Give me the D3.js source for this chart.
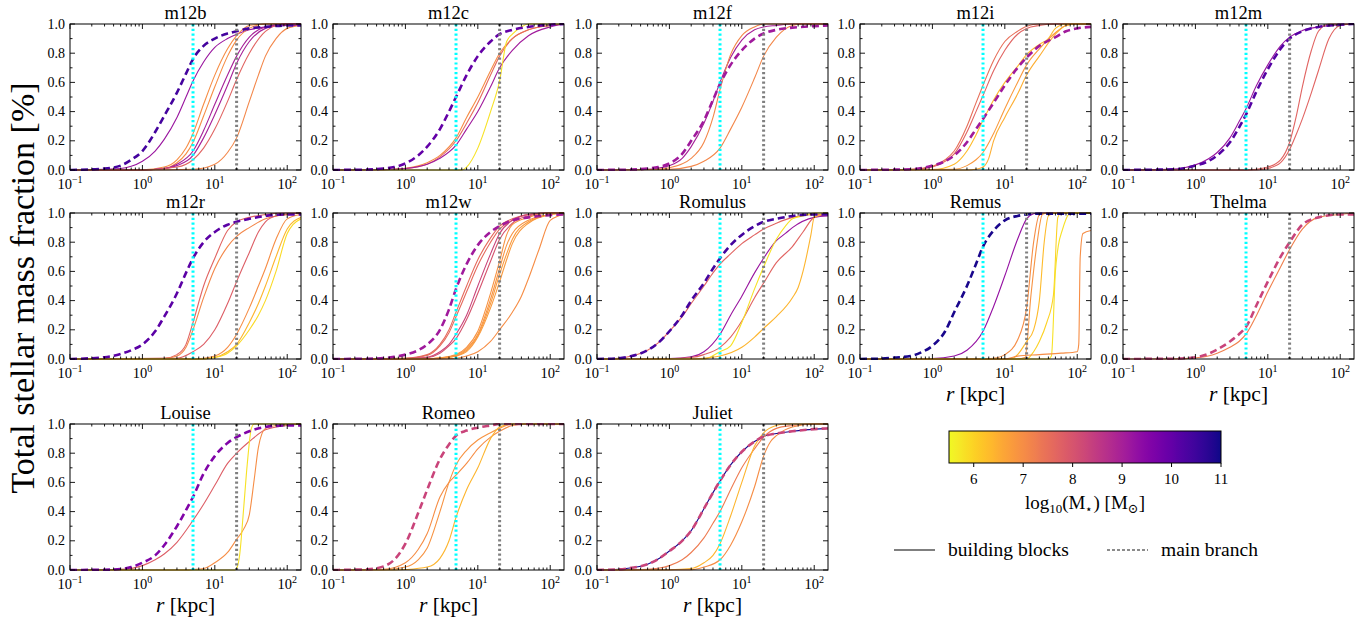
<!DOCTYPE html>
<html><head><meta charset="utf-8">
<script src="https://cdn.jsdelivr.net/npm/d3@7"></script>
<style>
body{margin:0;background:#fff}
text{font-family:"Liberation Serif","DejaVu Serif",serif;fill:#000}
</style>
</head><body>
<svg id="chart" width="1370" height="618"></svg>
<script>
// ---------------- data ----------------
const panelNames = ["m12b","m12c","m12f","m12i","m12m","m12r","m12w","Romulus","Remus","Thelma","Louise","Romeo","Juliet"];
const xMajorTicks = [0.1, 1, 10, 100];
const xTickExponents = ["−1","0","1","2"];
const yTicks = [0, 0.2, 0.4, 0.6, 0.8, 1.0];
const yTickLabels = ["0.0","0.2","0.4","0.6","0.8","1.0"];
const cbTicks = [6, 7, 8, 9, 10, 11];
const cyanRadius = 5;
const grayRadius = 20;
// each entry: [log10 M*, [[r, fraction], ...]]; first entry = main branch
const m12b = [
  [10.4,[[0.1,0],[0.3,0.01],[0.5,0.03],[0.7,0.07],[1,0.13],[1.5,0.26],[2,0.37],[3,0.53],[4,0.66],[5,0.76],[7,0.85],[10,0.9],[15,0.935],[20,0.95],[30,0.97],[50,0.98],[100,0.99],[155,0.99]]],
  [9.2,[[0.1,0],[0.5,0.01],[0.7,0.025],[1,0.06],[1.5,0.13],[2,0.21],[3,0.36],[4,0.5],[5,0.61],[7,0.74],[10,0.84],[15,0.9],[20,0.93],[30,0.96],[50,0.98],[100,0.99],[155,0.99]]],
  [7.0,[[0.1,0],[1,0.002],[2,0.02],[3,0.07],[4,0.15],[5,0.25],[7,0.45],[10,0.65],[15,0.83],[20,0.92],[30,0.99],[50,1],[155,1]]],
  [7.0,[[0.1,0],[1,0.001],[2,0.01],[3,0.05],[4,0.11],[5,0.19],[7,0.37],[10,0.57],[15,0.78],[20,0.89],[30,0.97],[50,1],[155,1]]],
  [9.0,[[0.1,0],[1,0.001],[2,0.01],[3,0.04],[5,0.13],[7,0.27],[10,0.45],[15,0.65],[20,0.78],[30,0.91],[50,0.98],[100,1],[155,1]]],
  [9.0,[[0.1,0],[1,0.001],[2,0.01],[3,0.03],[5,0.1],[7,0.22],[10,0.38],[15,0.58],[20,0.73],[30,0.88],[50,0.97],[100,1],[155,1]]],
  [7.7,[[0.1,0],[1,0.001],[3,0.02],[5,0.07],[7,0.15],[10,0.28],[15,0.47],[20,0.62],[30,0.8],[50,0.95],[70,0.99],[100,1],[155,1]]],
  [7.1,[[0.1,0],[1,0],[5,0.005],[10,0.04],[15,0.12],[20,0.22],[30,0.47],[40,0.65],[50,0.78],[70,0.9],[100,0.97],[155,0.99]]]
];
const m12c = [
  [10.0,[[0.1,0],[0.3,0.003],[0.5,0.01],[0.7,0.02],[1,0.045],[1.5,0.1],[2,0.16],[3,0.28],[4,0.4],[5,0.5],[7,0.65],[10,0.78],[15,0.88],[20,0.93],[30,0.96],[50,0.98],[100,0.995],[155,1]]],
  [7.0,[[0.1,0],[0.5,0.003],[1,0.012],[2,0.05],[3,0.1],[5,0.22],[7,0.36],[10,0.5],[15,0.68],[20,0.8],[30,0.9],[50,0.96],[100,0.99],[155,1]]],
  [7.6,[[0.1,0],[0.5,0.002],[1,0.01],[2,0.04],[3,0.09],[5,0.2],[7,0.32],[10,0.46],[15,0.65],[20,0.78],[30,0.9],[50,0.96],[100,0.99],[155,1]]],
  [9.1,[[0.1,0],[0.5,0.002],[1,0.01],[2,0.04],[3,0.08],[5,0.17],[7,0.28],[10,0.4],[15,0.57],[20,0.7],[30,0.82],[50,0.92],[100,0.98],[155,1]]],
  [5.8,[[0.1,0],[6,0],[7,0.02],[10,0.15],[15,0.4],[20,0.61],[25,0.88],[30,0.93],[40,0.98],[50,1],[155,1]]]
];
const m12f = [
  [9.1,[[0.1,0],[0.3,0.003],[0.5,0.01],[0.7,0.02],[1,0.045],[1.5,0.11],[2,0.2],[3,0.34],[4,0.48],[5,0.59],[7,0.72],[10,0.82],[15,0.9],[20,0.935],[30,0.96],[50,0.975],[100,0.985],[155,0.99]]],
  [9.0,[[0.1,0],[0.5,0.005],[0.7,0.012],[1,0.03],[1.5,0.08],[2,0.16],[3,0.32],[4,0.47],[5,0.6],[7,0.77],[10,0.89],[15,0.96],[20,0.98],[30,0.99],[50,1],[155,1]]],
  [7.1,[[0.1,0],[0.7,0.005],[1,0.015],[2,0.08],[3,0.19],[4,0.36],[5,0.55],[7,0.79],[10,0.92],[15,0.98],[20,1],[155,1]]],
  [7.1,[[0.1,0],[1,0.005],[2,0.025],[3,0.06],[5,0.15],[7,0.28],[10,0.43],[15,0.63],[20,0.78],[30,0.91],[50,0.99],[70,1],[155,1]]]
];
const m12i = [
  [9.1,[[0.1,0],[0.5,0.005],[1,0.03],[1.5,0.06],[2,0.1],[3,0.19],[4,0.28],[5,0.35],[7,0.46],[10,0.58],[15,0.7],[20,0.77],[30,0.85],[50,0.91],[70,0.95],[100,0.97],[155,0.98]]],
  [7.5,[[0.1,0],[0.5,0.005],[1,0.025],[1.5,0.07],[2,0.13],[3,0.3],[4,0.46],[5,0.58],[7,0.75],[10,0.88],[15,0.95],[20,0.985],[30,1],[155,1]]],
  [7.7,[[0.1,0],[0.5,0.003],[1,0.02],[1.5,0.06],[2,0.11],[3,0.26],[4,0.4],[5,0.51],[7,0.68],[10,0.82],[15,0.93],[20,0.97],[30,0.99],[50,1],[155,1]]],
  [6.3,[[0.1,0],[1,0.003],[2,0.04],[3,0.13],[4,0.24],[5,0.34],[7,0.48],[10,0.6],[15,0.71],[20,0.79],[30,0.86],[40,0.9],[50,0.97],[70,1],[155,1]]],
  [6.8,[[0.1,0],[2,0.005],[3,0.03],[4,0.07],[5,0.12],[7,0.25],[10,0.42],[15,0.6],[20,0.72],[30,0.83],[50,0.94],[70,0.99],[100,1],[155,1]]],
  [6.5,[[0.1,0],[3,0],[4,0.005],[5,0.02],[6,0.08],[7,0.2],[10,0.36],[15,0.52],[20,0.65],[30,0.78],[50,0.93],[70,0.99],[100,1],[155,1]]]
];
const m12m = [
  [10.2,[[0.1,0],[0.5,0.005],[0.7,0.012],[1,0.03],[1.5,0.06],[2,0.1],[3,0.19],[4,0.29],[5,0.38],[7,0.54],[10,0.69],[15,0.83],[20,0.9],[30,0.95],[50,0.98],[100,0.995],[155,1]]],
  [9.2,[[0.1,0],[0.5,0.006],[0.7,0.015],[1,0.035],[1.5,0.075],[2,0.12],[3,0.22],[4,0.33],[5,0.42],[7,0.58],[10,0.72],[15,0.85],[20,0.91],[30,0.955],[50,0.98],[100,0.995],[155,1]]],
  [7.7,[[0.1,0],[5,0],[7,0.005],[10,0.02],[15,0.07],[20,0.19],[25,0.38],[30,0.57],[40,0.82],[50,0.95],[70,1],[155,1]]],
  [7.7,[[0.1,0],[7,0],[10,0.01],[15,0.05],[20,0.14],[25,0.25],[30,0.35],[40,0.53],[50,0.68],[70,0.9],[100,0.99],[155,1]]]
];
const m12r = [
  [10.1,[[0.1,0],[0.3,0.012],[0.5,0.035],[0.7,0.06],[1,0.1],[1.5,0.19],[2,0.29],[3,0.45],[4,0.59],[5,0.69],[7,0.8],[10,0.87],[15,0.92],[20,0.94],[30,0.96],[50,0.98],[100,0.99],[155,0.99]]],
  [7.7,[[0.1,0],[2,0.005],[3,0.03],[4,0.1],[5,0.25],[7,0.5],[10,0.69],[15,0.88],[20,0.94],[30,0.97],[50,0.99],[100,1],[155,1]]],
  [7.1,[[0.1,0],[2,0.003],[3,0.02],[4,0.08],[5,0.2],[7,0.42],[10,0.62],[15,0.77],[20,0.84],[30,0.9],[50,0.96],[100,0.99],[155,1]]],
  [7.8,[[0.1,0],[3,0.005],[5,0.05],[7,0.1],[10,0.2],[15,0.38],[20,0.53],[30,0.73],[40,0.87],[50,0.94],[70,0.98],[100,0.99],[155,1]]],
  [7.0,[[0.1,0],[5,0],[7,0.005],[10,0.02],[15,0.08],[20,0.17],[30,0.35],[40,0.5],[50,0.62],[70,0.82],[100,0.96],[155,0.99]]],
  [6.4,[[0.1,0],[7,0],[10,0.01],[15,0.05],[20,0.1],[30,0.25],[40,0.38],[50,0.5],[70,0.7],[100,0.89],[155,0.97]]],
  [5.9,[[0.1,0],[7,0],[10,0.01],[15,0.04],[20,0.09],[30,0.2],[40,0.3],[50,0.4],[70,0.6],[100,0.86],[120,0.92],[155,0.96]]]
];
const m12w = [
  [9.1,[[0.1,0],[0.3,0.002],[0.5,0.006],[0.7,0.015],[1,0.03],[1.5,0.06],[2,0.1],[3,0.2],[4,0.34],[5,0.48],[7,0.65],[10,0.78],[15,0.87],[20,0.91],[30,0.95],[50,0.97],[100,0.985],[155,0.99]]],
  [7.6,[[0.1,0],[1,0.005],[2,0.03],[3,0.1],[4,0.2],[5,0.32],[7,0.5],[10,0.68],[15,0.83],[20,0.91],[30,0.96],[50,0.99],[100,1],[155,1]]],
  [7.6,[[0.1,0],[1,0.004],[2,0.025],[3,0.09],[4,0.18],[5,0.29],[7,0.46],[10,0.64],[15,0.8],[20,0.89],[30,0.95],[50,0.99],[100,1],[155,1]]],
  [8.3,[[0.1,0],[1,0.002],[2,0.012],[3,0.05],[4,0.1],[5,0.17],[7,0.3],[10,0.5],[15,0.72],[20,0.86],[30,0.95],[50,0.99],[100,1],[155,1]]],
  [8.0,[[0.1,0],[1,0.002],[2,0.01],[3,0.04],[4,0.09],[5,0.14],[7,0.27],[10,0.45],[15,0.67],[20,0.82],[30,0.93],[50,0.98],[100,1],[155,1]]],
  [6.9,[[0.1,0],[2,0.002],[3,0.008],[5,0.03],[7,0.08],[10,0.19],[15,0.45],[20,0.67],[25,0.85],[30,0.92],[50,0.97],[100,1],[155,1]]],
  [6.9,[[0.1,0],[2,0.002],[3,0.007],[5,0.025],[7,0.07],[10,0.17],[15,0.41],[20,0.62],[25,0.78],[30,0.86],[50,0.95],[100,0.99],[155,1]]],
  [6.8,[[0.1,0],[2,0.001],[3,0.006],[5,0.02],[7,0.06],[10,0.16],[15,0.38],[20,0.58],[25,0.72],[30,0.82],[50,0.94],[100,0.99],[155,1]]],
  [6.8,[[0.1,0],[2,0.001],[3,0.005],[5,0.02],[7,0.05],[10,0.15],[15,0.35],[20,0.53],[25,0.68],[30,0.79],[50,0.93],[100,0.99],[155,1]]],
  [7.0,[[0.1,0],[3,0],[5,0.005],[7,0.02],[10,0.05],[15,0.12],[20,0.2],[30,0.32],[40,0.43],[50,0.55],[70,0.75],[100,0.95],[155,0.99]]]
];
const Romulus = [
  [10.4,[[0.1,0],[0.2,0.005],[0.3,0.02],[0.5,0.06],[0.7,0.11],[1,0.19],[1.5,0.3],[2,0.4],[3,0.52],[4,0.62],[5,0.69],[7,0.78],[10,0.85],[15,0.91],[20,0.94],[30,0.96],[50,0.98],[100,0.99],[155,0.99]]],
  [7.7,[[0.1,0],[0.2,0.005],[0.3,0.02],[0.5,0.06],[0.7,0.11],[1,0.19],[1.5,0.29],[2,0.38],[3,0.5],[4,0.59],[5,0.65],[7,0.72],[10,0.79],[15,0.85],[20,0.89],[30,0.93],[50,0.97],[100,0.99],[155,0.99]]],
  [9.2,[[0.1,0],[1,0.003],[2,0.015],[3,0.05],[5,0.17],[7,0.3],[10,0.43],[15,0.59],[20,0.69],[30,0.81],[40,0.86],[50,0.9],[100,0.97],[155,0.98]]],
  [7.7,[[0.1,0],[1,0.002],[2,0.01],[3,0.03],[5,0.08],[7,0.15],[10,0.26],[15,0.42],[20,0.52],[30,0.66],[50,0.77],[70,0.87],[100,0.97],[155,0.99]]],
  [5.8,[[0.1,0],[3,0],[5,0.05],[7,0.09],[10,0.25],[15,0.48],[20,0.63],[30,0.82],[40,0.91],[50,0.96],[70,0.98],[100,1],[155,1]]],
  [6.4,[[0.1,0],[2,0],[3,0.005],[5,0.02],[10,0.08],[15,0.15],[20,0.21],[30,0.29],[50,0.42],[60,0.49],[70,0.6],[90,0.85],[100,0.97],[155,1]]]
];
const Remus = [
  [10.9,[[0.1,0],[0.2,0.003],[0.3,0.01],[0.5,0.02],[0.7,0.045],[1,0.09],[1.5,0.19],[2,0.32],[3,0.5],[4,0.65],[5,0.77],[7,0.88],[10,0.95],[15,0.98],[20,0.99],[30,0.995],[155,0.995]]],
  [9.3,[[0.1,0],[1,0.003],[2,0.02],[3,0.06],[5,0.19],[7,0.36],[10,0.57],[15,0.82],[20,0.96],[25,0.995],[30,1],[155,1]]],
  [7.0,[[0.1,0],[5,0],[7,0.005],[10,0.03],[15,0.13],[20,0.35],[25,0.8],[30,0.99],[35,1],[155,1]]],
  [6.9,[[0.1,0],[15,0],[19,0.01],[23,0.44],[28,0.8],[33,0.99],[40,1],[155,1]]],
  [6.3,[[0.1,0],[12,0],[15,0.03],[20,0.12],[25,0.2],[30,0.4],[35,0.8],[40,0.98],[50,1],[155,1]]],
  [6.0,[[0.1,0],[20,0],[25,0.05],[30,0.12],[38,0.25],[47,0.44],[54,0.97],[60,1],[155,1]]],
  [5.8,[[0.1,0],[40,0],[44,0.02],[50,0.6],[55,0.78],[62,0.88],[76,0.99],[85,1],[155,1]]],
  [7.0,[[0.1,0],[10,0],[15,0.02],[30,0.03],[60,0.04],[100,0.05],[105,0.1],[110,0.7],[120,0.86],[155,0.88]]]
];
const Thelma = [
  [8.3,[[0.1,0],[0.5,0.002],[1,0.012],[1.5,0.035],[2,0.065],[3,0.12],[4,0.17],[5,0.22],[7,0.37],[10,0.53],[15,0.7],[20,0.8],[30,0.92],[50,0.97],[100,0.99],[155,0.99]]],
  [7.2,[[0.1,0],[0.5,0.001],[1,0.008],[1.5,0.02],[2,0.04],[3,0.08],[4,0.12],[5,0.17],[7,0.3],[10,0.46],[15,0.63],[20,0.75],[30,0.89],[50,0.97],[100,0.99],[155,1]]]
];
const Louise = [
  [9.6,[[0.1,0],[0.3,0.002],[0.5,0.007],[0.7,0.02],[1,0.05],[1.5,0.1],[2,0.17],[3,0.3],[4,0.41],[5,0.5],[7,0.66],[10,0.78],[15,0.87],[20,0.91],[30,0.95],[50,0.98],[100,0.99],[155,0.99]]],
  [7.8,[[0.1,0],[0.5,0.004],[1,0.03],[1.5,0.07],[2,0.11],[3,0.19],[5,0.34],[7,0.45],[10,0.58],[15,0.73],[20,0.8],[30,0.88],[50,0.96],[100,0.99],[155,1]]],
  [7.0,[[0.1,0],[4,0],[5,0.003],[7,0.01],[10,0.05],[15,0.12],[20,0.21],[25,0.28],[30,0.38],[35,0.62],[40,0.84],[50,0.97],[70,0.99],[155,1]]],
  [5.8,[[0.1,0],[19,0],[20,0.01],[22,0.1],[25,0.42],[28,0.72],[32,0.97],[35,1],[155,1]]]
];
const Romeo = [
  [8.3,[[0.1,0],[0.3,0.005],[0.5,0.025],[0.7,0.07],[1,0.18],[1.5,0.39],[2,0.55],[3,0.76],[4,0.86],[5,0.92],[7,0.955],[10,0.975],[15,0.99],[20,1],[155,1]]],
  [7.0,[[0.1,0],[0.5,0.005],[1,0.05],[1.5,0.14],[2,0.25],[3,0.5],[4,0.6],[5,0.65],[7,0.73],[10,0.83],[15,0.91],[20,0.95],[30,0.99],[50,1],[155,1]]],
  [6.9,[[0.1,0],[0.5,0.002],[1,0.02],[1.5,0.07],[2,0.15],[3,0.4],[4,0.6],[5,0.72],[7,0.82],[10,0.89],[15,0.94],[20,0.97],[30,1],[155,1]]],
  [6.4,[[0.1,0],[0.7,0],[1,0.003],[2,0.02],[3,0.08],[4,0.2],[5,0.36],[7,0.55],[10,0.7],[15,0.9],[20,0.98],[30,1],[155,1]]]
];
const Juliet = [
  [8.3,[[0.1,0],[0.2,0.004],[0.3,0.015],[0.5,0.04],[0.7,0.075],[1,0.13],[1.5,0.2],[2,0.27],[3,0.42],[4,0.53],[5,0.61],[7,0.72],[10,0.81],[15,0.88],[20,0.915],[30,0.935],[50,0.95],[100,0.965],[155,0.97]]],
  [10.9,[[0.1,0],[0.2,0.004],[0.3,0.015],[0.5,0.04],[0.7,0.075],[1,0.13],[1.5,0.2],[2,0.27],[3,0.42],[4,0.53],[5,0.61],[7,0.72],[10,0.81],[15,0.88],[20,0.915],[30,0.935],[50,0.95],[100,0.965],[155,0.97]]],
  [7.3,[[0.1,0],[0.3,0.002],[0.5,0.005],[0.7,0.012],[1,0.03],[1.5,0.07],[2,0.12],[3,0.22],[4,0.32],[5,0.4],[7,0.55],[10,0.7],[15,0.83],[20,0.91],[30,0.97],[50,0.99],[100,1],[155,1]]],
  [6.4,[[0.1,0],[1,0.002],[2,0.01],[3,0.05],[4,0.1],[5,0.18],[7,0.37],[10,0.6],[15,0.85],[20,0.94],[30,0.99],[40,1],[155,1]]],
  [7.0,[[0.1,0],[2,0.002],[3,0.02],[5,0.07],[7,0.17],[10,0.33],[15,0.57],[20,0.78],[25,0.88],[30,0.92],[50,0.98],[100,1],[155,1]]]
];
const panelCurves = [m12b, m12c, m12f, m12i, m12m, m12r, m12w, Romulus, Remus, Thelma, Louise, Romeo, Juliet];

// ---------------- drawing ----------------
const svg = d3.select("#chart");
const W = 231, H = 146;
const colX = [70, 333, 597, 860, 1123];
const rowY = [24, 213, 424];
const x = d3.scaleLog().domain([0.1, 155]).range([0, W]);
const y = d3.scaleLinear().domain([0, 1]).range([H, 0]);
const massColor = d3.scaleSequential(t => d3.interpolatePlasma(1 - t)).domain([5.5, 11]);
const line = d3.line().x(d => x(d[0])).y(d => y(d[1])).curve(d3.curveMonotoneX);

const defs = svg.append("defs");
const xMinor = [];
[0.1, 1, 10, 100].forEach(b => { for (let k = 2; k <= 9; k++) { const v = b * k; if (v <= 155) xMinor.push(v); } });
const yMinor = [0.1, 0.3, 0.5, 0.7, 0.9];

panelNames.forEach((name, i) => {
  const col = i % 5, row = Math.floor(i / 5);
  const g = svg.append("g").attr("transform", `translate(${colX[col]},${rowY[row]})`);
  defs.append("clipPath").attr("id", "clip" + i).append("rect").attr("x", 0).attr("y", -1).attr("width", W).attr("height", H + 2);
  const plot = g.append("g").attr("clip-path", `url(#clip${i})`);
  const curves = panelCurves[i];
  curves.slice(1).forEach(([m, pts]) => {
    plot.append("path").attr("d", line(pts)).attr("fill", "none")
      .attr("stroke", massColor(m)).attr("stroke-width", 1.1);
  });
  const [mm, mp] = curves[0];
  plot.append("path").attr("d", line(mp)).attr("fill", "none")
    .attr("stroke", massColor(mm)).attr("stroke-width", 2.6).attr("stroke-dasharray", "7,4");
  plot.append("line").attr("x1", x(cyanRadius)).attr("x2", x(cyanRadius)).attr("y1", 0).attr("y2", H)
    .attr("stroke", "#00ffff").attr("stroke-width", 3).attr("stroke-dasharray", "2.2,2.6");
  plot.append("line").attr("x1", x(grayRadius)).attr("x2", x(grayRadius)).attr("y1", 0).attr("y2", H)
    .attr("stroke", "#808080").attr("stroke-width", 3).attr("stroke-dasharray", "2.2,2.6");

  // frame
  g.append("rect").attr("width", W).attr("height", H).attr("fill", "none").attr("stroke", "#000").attr("stroke-width", 1);
  // ticks
  const tk = g.append("g").attr("stroke", "#000").attr("stroke-width", 0.9);
  xMajorTicks.forEach(v => {
    const px = x(v);
    tk.append("line").attr("x1", px).attr("x2", px).attr("y1", H).attr("y2", H - 5);
    tk.append("line").attr("x1", px).attr("x2", px).attr("y1", 0).attr("y2", 5);
  });
  xMinor.forEach(v => {
    const px = x(v);
    tk.append("line").attr("x1", px).attr("x2", px).attr("y1", H).attr("y2", H - 2.5);
    tk.append("line").attr("x1", px).attr("x2", px).attr("y1", 0).attr("y2", 2.5);
  });
  yTicks.forEach(v => {
    const py = y(v);
    tk.append("line").attr("x1", 0).attr("x2", 5).attr("y1", py).attr("y2", py);
    tk.append("line").attr("x1", W).attr("x2", W - 5).attr("y1", py).attr("y2", py);
  });
  yMinor.forEach(v => {
    const py = y(v);
    tk.append("line").attr("x1", 0).attr("x2", 2.5).attr("y1", py).attr("y2", py);
    tk.append("line").attr("x1", W).attr("x2", W - 2.5).attr("y1", py).attr("y2", py);
  });
  // tick labels
  yTicks.forEach((v, j) => {
    g.append("text").attr("x", -5).attr("y", y(v) + 4.5).attr("text-anchor", "end")
      .attr("font-size", 14).text(yTickLabels[j]);
  });
  xMajorTicks.forEach((v, j) => {
    const t = g.append("text").attr("x", x(v)).attr("y", H + 19).attr("text-anchor", "middle").attr("font-size", 14.5);
    t.append("tspan").text("10");
    t.append("tspan").attr("dy", -6).attr("font-size", 10).text(xTickExponents[j]);
  });
  // title
  g.append("text").attr("x", W / 2).attr("y", -5).attr("text-anchor", "middle").attr("font-size", 18.5).text(name);
  // x label
  if (row === 2 || (row === 1 && col >= 3)) {
    const t = g.append("text").attr("x", W / 2).attr("y", H + 42).attr("text-anchor", "middle").attr("font-size", 21.5);
    t.append("tspan").attr("font-style", "italic").text("r");
    t.append("tspan").text(" [kpc]");
  }
});

// y label
svg.append("text").attr("transform", "translate(34,288) rotate(-90)").attr("text-anchor", "middle")
  .attr("font-size", 34).text("Total stellar mass fraction [%]");

// colorbar
const cbX0 = 949, cbX1 = 1221, cbY = 431, cbH = 32;
const cbScale = d3.scaleLinear().domain([5.5, 11]).range([cbX0, cbX1]);
const grad = defs.append("linearGradient").attr("id", "cbgrad").attr("x1", "0%").attr("x2", "100%").attr("y1", "0%").attr("y2", "0%");
d3.range(0, 1.0001, 0.02).forEach(t => {
  grad.append("stop").attr("offset", (t * 100) + "%").attr("stop-color", massColor(5.5 + t * 5.5));
});
svg.append("rect").attr("x", cbX0).attr("y", cbY).attr("width", cbX1 - cbX0).attr("height", cbH)
  .attr("fill", "url(#cbgrad)").attr("stroke", "#000").attr("stroke-width", 1);
cbTicks.forEach(v => {
  const px = cbScale(v);
  svg.append("line").attr("x1", px).attr("x2", px).attr("y1", cbY + cbH).attr("y2", cbY + cbH + 4).attr("stroke", "#000");
  svg.append("text").attr("x", px).attr("y", cbY + cbH + 21).attr("text-anchor", "middle").attr("font-size", 15).text(v);
});
const cbl = svg.append("text").attr("x", (cbX0 + cbX1) / 2).attr("y", 509).attr("text-anchor", "middle").attr("font-size", 19);
cbl.append("tspan").text("log");
cbl.append("tspan").attr("dy", 4).attr("font-size", 13).text("10");
cbl.append("tspan").attr("dy", -4).text("(M");
cbl.append("tspan").attr("dy", 4).attr("font-size", 12).text("⋆");
cbl.append("tspan").attr("dy", -4).text(") [M");
cbl.append("tspan").attr("dy", 4).attr("font-size", 13).text("⊙");
cbl.append("tspan").attr("dy", -4).text("]");

// legend
svg.append("line").attr("x1", 894).attr("x2", 935).attr("y1", 550).attr("y2", 550).attr("stroke", "#555").attr("stroke-width", 1.5);
svg.append("text").attr("x", 948).attr("y", 556).attr("font-size", 19.5).text("building blocks");
svg.append("line").attr("x1", 1107).attr("x2", 1148).attr("y1", 550).attr("y2", 550).attr("stroke", "#666").attr("stroke-width", 1.5).attr("stroke-dasharray", "3,2");
svg.append("text").attr("x", 1161).attr("y", 556).attr("font-size", 19.5).text("main branch");
</script>
</body></html>
